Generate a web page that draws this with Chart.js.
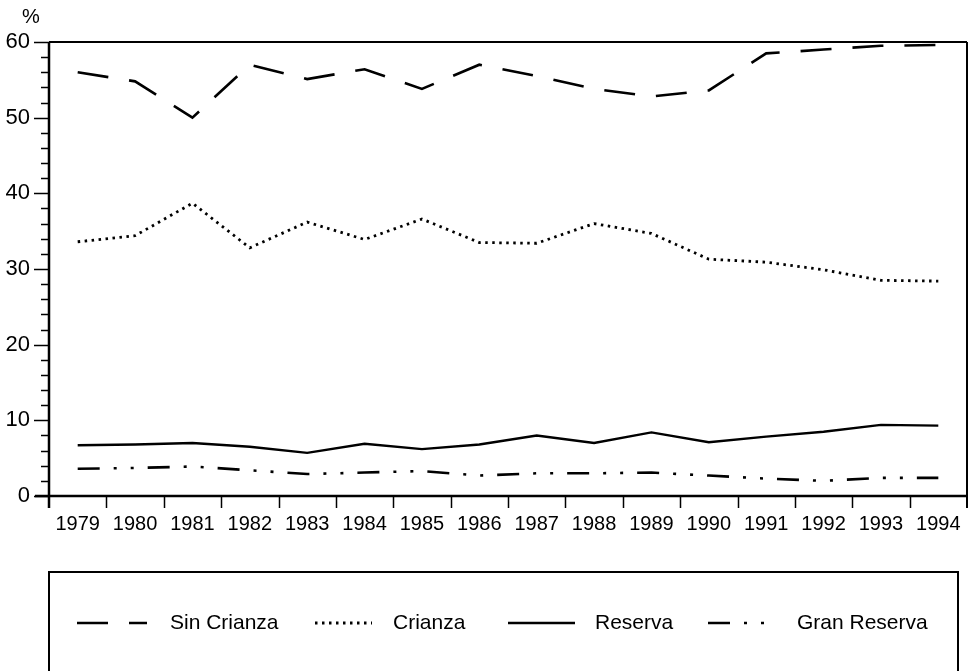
<!DOCTYPE html>
<html>
<head>
<meta charset="utf-8">
<script src="https://cdn.jsdelivr.net/npm/chart.js@4"></script>
<style>
  html, body { margin: 0; padding: 0; background: #fff; }
  #wrap { width: 971px; height: 671px; }
</style>
</head>
<body>
<div id="wrap"><canvas id="c" width="971" height="671"></canvas></div>
<script>
const years = ['1979','1980','1981','1982','1983','1984','1985','1986','1987','1988','1989','1990','1991','1992','1993','1994'];
const sinCrianza  = [56.0, 54.8, 50.0, 57.0, 55.1, 56.4, 53.8, 57.0, 55.5, 53.8, 52.8, 53.6, 58.5, 59.0, 59.5, 59.6];
const crianza     = [33.6, 34.4, 38.7, 32.8, 36.2, 33.9, 36.6, 33.5, 33.4, 36.0, 34.7, 31.3, 30.9, 29.9, 28.5, 28.4];
const reserva     = [6.7, 6.8, 7.0, 6.5, 5.7, 6.9, 6.2, 6.8, 8.0, 7.0, 8.4, 7.1, 7.85, 8.5, 9.4, 9.3];
const granReserva = [3.6, 3.7, 3.9, 3.4, 2.9, 3.1, 3.3, 2.7, 3.0, 3.0, 3.1, 2.7, 2.3, 2.0, 2.4, 2.4];
const seriesNames = ['Sin Crianza', 'Crianza', 'Reserva', 'Gran Reserva'];
const yMin = 0, yMax = 60, yMajorStep = 10, yMinorStep = 2;
const unitLabel = '%';

const FONT = '"Liberation Sans", Arial, Helvetica, sans-serif';
const dashes = [[31, 21], [2.5, 4.5], [], [22, 14, 3, 14, 3, 14]];
const widths = [2.6, 2.8, 2.4, 2.6];

const frame = {
  id: 'frame',
  afterDraw(chart) {
    const ctx = chart.ctx;
    const a = chart.chartArea;
    const ys = chart.scales.y;
    ctx.save();
    ctx.strokeStyle = '#000';
    ctx.lineCap = 'butt';
    ctx.lineWidth = 2.5;
    ctx.beginPath();
    ctx.moveTo(a.left, a.top); ctx.lineTo(a.left, a.bottom + 12);
    ctx.moveTo(a.left - 14, a.bottom); ctx.lineTo(a.right, a.bottom);
    ctx.stroke();
    ctx.lineWidth = 2;
    ctx.beginPath();
    ctx.moveTo(a.left, a.top); ctx.lineTo(a.right, a.top);
    ctx.moveTo(a.right, a.top); ctx.lineTo(a.right, a.bottom + 12);
    ctx.stroke();
    ctx.lineWidth = 1.5;
    ctx.beginPath();
    for (let v = yMin; v <= yMax; v += yMinorStep) {
      const p = Math.round(ys.getPixelForValue(v)) + 0.5;
      const major = (v % yMajorStep) === 0;
      ctx.moveTo(a.left - (major ? 15 : 8), p);
      ctx.lineTo(a.left, p);
    }
    ctx.stroke();
    const n = years.length;
    const w = (a.right - a.left) / n;
    ctx.beginPath();
    for (let i = 1; i < n; i++) {
      const p = Math.round(a.left + i * w) + 0.5;
      ctx.moveTo(p, a.bottom);
      ctx.lineTo(p, a.bottom + 12);
    }
    ctx.stroke();
    ctx.fillStyle = '#000';
    ctx.font = '20px ' + FONT;
    ctx.textAlign = 'center';
    ctx.textBaseline = 'middle';
    ctx.fillText(unitLabel, 31, 17);

    ctx.lineWidth = 2;
    ctx.strokeRect(49, 572, 909, 140);
    const ly = 623;
    const items = [
      { x0: 77, x1: 147, tx: 170 },
      { x0: 315, x1: 372, tx: 393 },
      { x0: 508, x1: 575, tx: 595 },
      { x0: 708, x1: 775, tx: 797 }
    ];
    chart.data.datasets.forEach((ds, i) => {
      const it = items[i];
      ctx.save();
      ctx.lineWidth = ds.borderWidth;
      ctx.setLineDash(ds.borderDash || []);
      ctx.beginPath();
      ctx.moveTo(it.x0, ly); ctx.lineTo(it.x1, ly);
      ctx.stroke();
      ctx.restore();
      ctx.font = '21px ' + FONT;
      ctx.textAlign = 'left';
      ctx.textBaseline = 'middle';
      ctx.fillText(ds.label, it.tx, ly);
    });
    ctx.restore();
  }
};

const values = [sinCrianza, crianza, reserva, granReserva];
new Chart(document.getElementById('c'), {
  type: 'line',
  data: {
    labels: years,
    datasets: values.map((v, i) => ({
      label: seriesNames[i],
      data: v,
      borderColor: '#000',
      backgroundColor: '#000',
      borderWidth: widths[i],
      borderDash: dashes[i],
      pointRadius: 0,
      tension: 0,
      fill: false
    }))
  },
  options: {
    responsive: false,
    animation: false,
    layout: { padding: { top: 42, right: 4, left: 0, bottom: 0 } },
    plugins: { legend: { display: false }, tooltip: { enabled: false } },
    scales: {
      x: {
        type: 'category',
        offset: true,
        grid: { display: false, offset: true, drawTicks: false, tickLength: 0 },
        border: { display: false },
        ticks: { color: '#000', font: { family: FONT, size: 20 }, padding: 16, maxRotation: 0, autoSkip: false },
        afterFit: s => { s.height = 175; s.paddingLeft = 0; s.paddingRight = 0; }
      },
      y: {
        min: yMin, max: yMax,
        grid: { display: false, drawTicks: false, tickLength: 0 },
        border: { display: false },
        ticks: { stepSize: yMajorStep, color: '#000', font: { family: FONT, size: 22 }, padding: 19 },
        afterFit: s => { s.width = 49; s.paddingTop = 0; s.paddingBottom = 0; }
      }
    }
  },
  plugins: [frame]
});
</script>
</body>
</html>
